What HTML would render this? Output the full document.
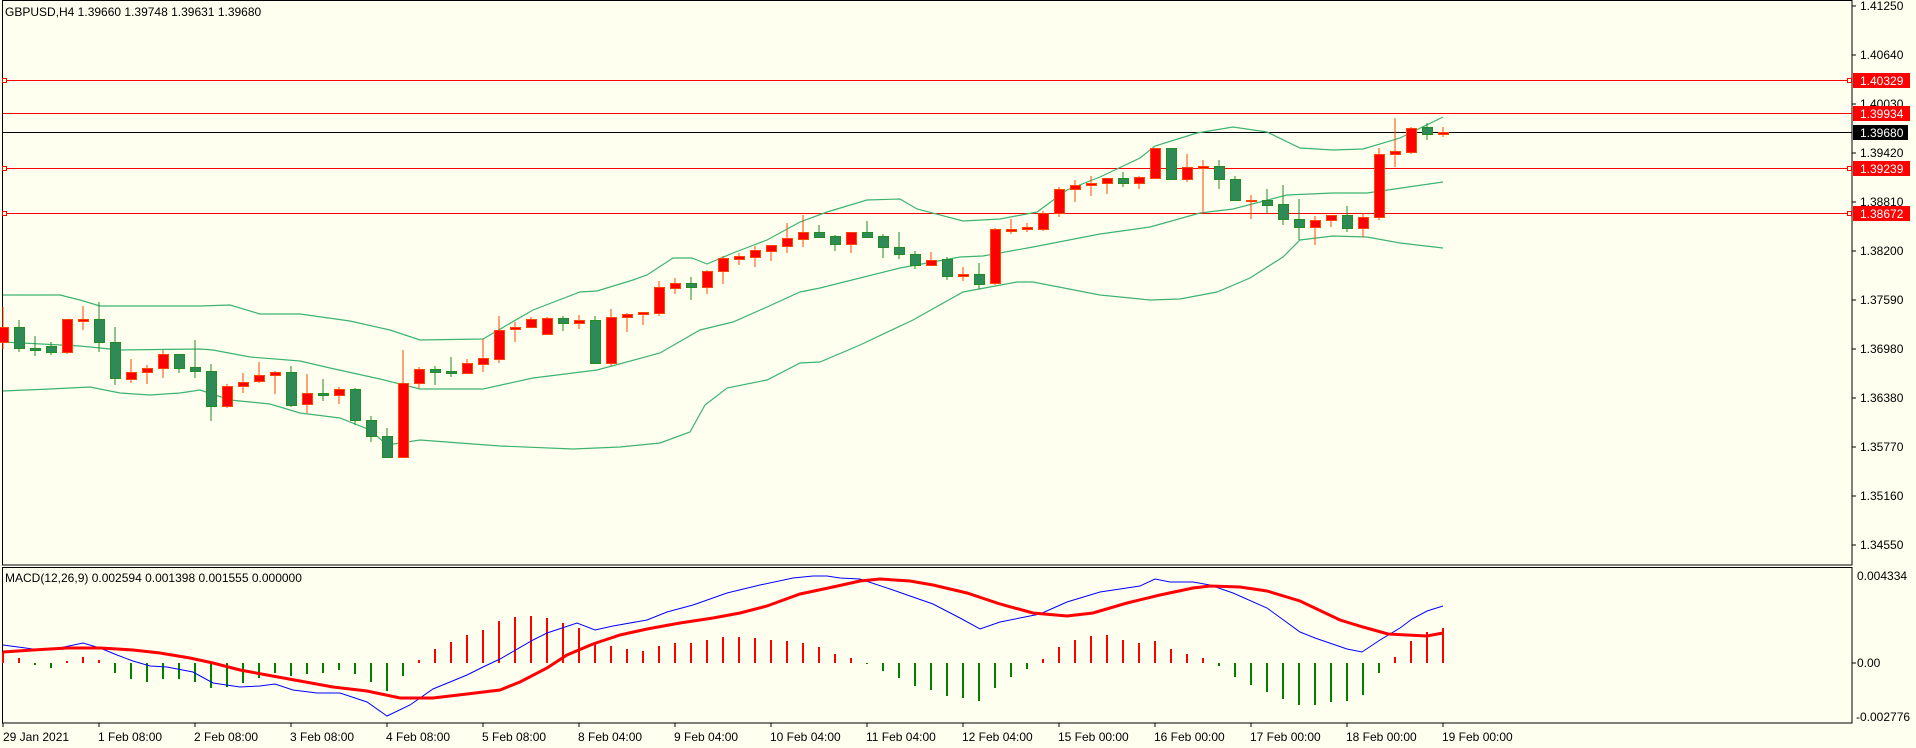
<!DOCTYPE html>
<html><head><meta charset="utf-8"><style>
html,body{margin:0;padding:0;background:#fffff0;}
svg{display:block;font-family:"Liberation Sans",Tahoma,sans-serif;font-size:12px;}
</style></head><body>
<svg width="1916" height="748" viewBox="0 0 1916 748" xmlns="http://www.w3.org/2000/svg">
<rect width="1916" height="748" fill="#fffff0"/>
<!-- panel borders -->
<rect x="2.5" y="0.5" width="1849.5" height="564.5" fill="none" stroke="#000" stroke-width="1"/>
<rect x="2.5" y="567.5" width="1849.5" height="155.5" fill="none" stroke="#000" stroke-width="1"/>
<g fill="#000">
<text x="5" y="16">GBPUSD,H4  1.39660 1.39748 1.39631 1.39680</text>
<text x="5" y="582">MACD(12,26,9) 0.002594 0.001398 0.001555 0.000000</text>
</g>
<!-- right price axis -->
<g stroke="#000" stroke-width="1">
<line x1="1852" y1="6" x2="1856" y2="6"/><line x1="1852" y1="55" x2="1856" y2="55"/><line x1="1852" y1="104" x2="1856" y2="104"/><line x1="1852" y1="153" x2="1856" y2="153"/><line x1="1852" y1="202" x2="1856" y2="202"/><line x1="1852" y1="251" x2="1856" y2="251"/><line x1="1852" y1="300" x2="1856" y2="300"/><line x1="1852" y1="349" x2="1856" y2="349"/><line x1="1852" y1="398" x2="1856" y2="398"/><line x1="1852" y1="447" x2="1856" y2="447"/><line x1="1852" y1="496" x2="1856" y2="496"/><line x1="1852" y1="545" x2="1856" y2="545"/>
<line x1="1852" y1="663" x2="1856" y2="663"/>
</g>
<g fill="#000">
<text x="1860" y="10">1.41250</text><text x="1860" y="59">1.40640</text><text x="1860" y="108">1.40030</text><text x="1860" y="157">1.39420</text><text x="1860" y="206">1.38810</text><text x="1860" y="255">1.38200</text><text x="1860" y="304">1.37590</text><text x="1860" y="353">1.36980</text><text x="1860" y="402">1.36380</text><text x="1860" y="451">1.35770</text><text x="1860" y="500">1.35160</text><text x="1860" y="549">1.34550</text>
<text x="1857" y="580">0.004334</text><text x="1857" y="667">0.00</text><text x="1856" y="721">-0.002776</text>
</g>
<!-- x axis -->
<g stroke="#000"><line x1="3" y1="723" x2="3" y2="727"/><line x1="99" y1="723" x2="99" y2="727"/><line x1="195" y1="723" x2="195" y2="727"/><line x1="291" y1="723" x2="291" y2="727"/><line x1="387" y1="723" x2="387" y2="727"/><line x1="483" y1="723" x2="483" y2="727"/><line x1="579" y1="723" x2="579" y2="727"/><line x1="675" y1="723" x2="675" y2="727"/><line x1="771" y1="723" x2="771" y2="727"/><line x1="867" y1="723" x2="867" y2="727"/><line x1="963" y1="723" x2="963" y2="727"/><line x1="1059" y1="723" x2="1059" y2="727"/><line x1="1155" y1="723" x2="1155" y2="727"/><line x1="1251" y1="723" x2="1251" y2="727"/><line x1="1347" y1="723" x2="1347" y2="727"/><line x1="1443" y1="723" x2="1443" y2="727"/></g>
<g fill="#000">
<text x="3" y="741">29 Jan 2021</text><text x="98" y="741">1 Feb 08:00</text><text x="194" y="741">2 Feb 08:00</text><text x="290" y="741">3 Feb 08:00</text><text x="386" y="741">4 Feb 08:00</text><text x="482" y="741">5 Feb 08:00</text><text x="578" y="741">8 Feb 04:00</text><text x="674" y="741">9 Feb 04:00</text><text x="770" y="741">10 Feb 04:00</text><text x="866" y="741">11 Feb 04:00</text><text x="962" y="741">12 Feb 04:00</text><text x="1058" y="741">15 Feb 00:00</text><text x="1154" y="741">16 Feb 00:00</text><text x="1250" y="741">17 Feb 00:00</text><text x="1346" y="741">18 Feb 00:00</text><text x="1442" y="741">19 Feb 00:00</text>
</g>
<!-- horizontal levels -->
<g stroke="#ff0000" stroke-width="1">
<line x1="3" y1="80.5" x2="1852" y2="80.5"/><line x1="3" y1="113.5" x2="1852" y2="113.5"/><line x1="3" y1="168.5" x2="1852" y2="168.5"/><line x1="3" y1="213.5" x2="1852" y2="213.5"/>
</g>
<line x1="3" y1="132.5" x2="1852" y2="132.5" stroke="#000" stroke-width="1"/>
<g fill="#fffff0" stroke="#ff0000" stroke-width="1">
<rect x="1847.5" y="78.5" width="4" height="4"/><rect x="1847.5" y="166.5" width="4" height="4"/><rect x="1847.5" y="211.5" width="4" height="4"/>
<rect x="2.5" y="78.5" width="4" height="4"/><rect x="2.5" y="166.5" width="4" height="4"/><rect x="2.5" y="211.5" width="4" height="4"/>
</g>
<g fill="#ff0000"><rect x="1853" y="73" width="57" height="15"/><rect x="1853" y="106" width="57" height="15"/><rect x="1853" y="161" width="57" height="15"/><rect x="1853" y="206" width="57" height="15"/></g>
<rect x="1853" y="125" width="55" height="15" fill="#000"/>
<g fill="#fff"><text x="1860" y="85">1.40329</text><text x="1860" y="118">1.39934</text><text x="1860" y="137">1.39680</text><text x="1860" y="173">1.39239</text><text x="1860" y="218">1.38672</text></g>
<!-- Bollinger -->
<g fill="none" stroke="#3cb371" stroke-width="1.2">
<polyline points="3,295 60,295 80,300 100,306 200,306 230,305 260,314 300,314 350,321 390,330 420,340 483,339 533,310 580,292 597,291 633,280 647,275 673,258 692,258 707,264 733,253 767,240 800,222 827,212 867,200 900,199 917,209 963,221 1000,219 1037,212 1067,190 1100,177 1140,158 1155,146 1197,133 1233,127 1267,132 1300,148 1333,150 1363,149 1400,138 1443,117"/>
<polyline points="3,342 80,346 120,350 200,349 213,350 250,357 300,361 330,368 380,379 420,389 483,389 533,378 597,370 660,353 700,330 733,322 767,307 800,292 820,288 900,268 960,257 983,256 1033,247 1100,234 1150,227 1200,213 1233,209 1287,195 1333,193 1367,193 1443,182"/>
<polyline points="3,391 50,389 90,387 120,393 150,395 180,393 200,390 230,400 270,404 300,413 340,418 370,430 387,445 420,440 460,443 500,446 573,449 620,447 660,443 690,432 705,405 727,388 767,380 800,363 820,362 860,345 913,320 963,292 1017,282 1033,282 1100,295 1150,300 1180,299 1217,292 1250,278 1283,257 1300,240 1333,236 1367,237 1400,243 1443,248"/>
</g>
<!-- candles -->
<g id="c"></g>
<g stroke-width="1">
<line x1="3" y1="307" x2="3" y2="349" stroke="#ff4500"/><rect x="-1.5" y="327.5" width="10" height="15" fill="#f00" stroke="#ff4500"/>
<line x1="19" y1="320" x2="19" y2="352" stroke="#228b22"/><rect x="14.5" y="327.5" width="10" height="21" fill="#2e8b57" stroke="#228b22"/>
<line x1="35" y1="336" x2="35" y2="356" stroke="#228b22"/><rect x="30.5" y="348.5" width="10" height="2" fill="#2e8b57" stroke="#228b22"/>
<line x1="51" y1="342" x2="51" y2="355" stroke="#228b22"/><rect x="46.5" y="346.5" width="10" height="6" fill="#2e8b57" stroke="#228b22"/>
<line x1="67" y1="319" x2="67" y2="354" stroke="#ff4500"/><rect x="62.5" y="319.5" width="10" height="33" fill="#f00" stroke="#ff4500"/>
<line x1="83" y1="306" x2="83" y2="330" stroke="#ff4500"/><rect x="78.5" y="319.5" width="10" height="2" fill="#f00" stroke="#ff4500"/>
<line x1="99" y1="302" x2="99" y2="352" stroke="#228b22"/><rect x="94.5" y="319.5" width="10" height="23" fill="#2e8b57" stroke="#228b22"/>
<line x1="115" y1="327" x2="115" y2="385" stroke="#228b22"/><rect x="110.5" y="342.5" width="10" height="36" fill="#2e8b57" stroke="#228b22"/>
<line x1="131" y1="359" x2="131" y2="383" stroke="#ff4500"/><rect x="126.5" y="372.5" width="10" height="7" fill="#f00" stroke="#ff4500"/>
<line x1="147" y1="365" x2="147" y2="384" stroke="#ff4500"/><rect x="142.5" y="368.5" width="10" height="4" fill="#f00" stroke="#ff4500"/>
<line x1="163" y1="350" x2="163" y2="378" stroke="#ff4500"/><rect x="158.5" y="354.5" width="10" height="14" fill="#f00" stroke="#ff4500"/>
<line x1="179" y1="354" x2="179" y2="373" stroke="#228b22"/><rect x="174.5" y="354.5" width="10" height="14" fill="#2e8b57" stroke="#228b22"/>
<line x1="195" y1="340" x2="195" y2="378" stroke="#228b22"/><rect x="190.5" y="367.5" width="10" height="4" fill="#2e8b57" stroke="#228b22"/>
<line x1="211" y1="364" x2="211" y2="421" stroke="#228b22"/><rect x="206.5" y="371.5" width="10" height="35" fill="#2e8b57" stroke="#228b22"/>
<line x1="227" y1="384" x2="227" y2="408" stroke="#ff4500"/><rect x="222.5" y="386.5" width="10" height="20" fill="#f00" stroke="#ff4500"/>
<line x1="243" y1="373" x2="243" y2="393" stroke="#ff4500"/><rect x="238.5" y="382.5" width="10" height="4" fill="#f00" stroke="#ff4500"/>
<line x1="259" y1="362" x2="259" y2="383" stroke="#ff4500"/><rect x="254.5" y="375.5" width="10" height="6" fill="#f00" stroke="#ff4500"/>
<line x1="275" y1="371" x2="275" y2="394" stroke="#ff4500"/><rect x="270.5" y="372.5" width="10" height="3" fill="#f00" stroke="#ff4500"/>
<line x1="291" y1="366" x2="291" y2="407" stroke="#228b22"/><rect x="286.5" y="372.5" width="10" height="33" fill="#2e8b57" stroke="#228b22"/>
<line x1="307" y1="374" x2="307" y2="413" stroke="#ff4500"/><rect x="302.5" y="393.5" width="10" height="11" fill="#f00" stroke="#ff4500"/>
<line x1="323" y1="379" x2="323" y2="401" stroke="#228b22"/><rect x="318.5" y="393.5" width="10" height="2" fill="#2e8b57" stroke="#228b22"/>
<line x1="339" y1="387" x2="339" y2="404" stroke="#ff4500"/><rect x="334.5" y="389.5" width="10" height="6" fill="#f00" stroke="#ff4500"/>
<line x1="355" y1="388" x2="355" y2="425" stroke="#228b22"/><rect x="350.5" y="389.5" width="10" height="31" fill="#2e8b57" stroke="#228b22"/>
<line x1="371" y1="416" x2="371" y2="442" stroke="#228b22"/><rect x="366.5" y="420.5" width="10" height="16" fill="#2e8b57" stroke="#228b22"/>
<line x1="387" y1="428" x2="387" y2="457" stroke="#228b22"/><rect x="382.5" y="436.5" width="10" height="21" fill="#2e8b57" stroke="#228b22"/>
<line x1="403" y1="350" x2="403" y2="457" stroke="#ff4500"/><rect x="398.5" y="383.5" width="10" height="74" fill="#f00" stroke="#ff4500"/>
<line x1="419" y1="367" x2="419" y2="388" stroke="#ff4500"/><rect x="414.5" y="369.5" width="10" height="14" fill="#f00" stroke="#ff4500"/>
<line x1="435" y1="366" x2="435" y2="385" stroke="#228b22"/><rect x="430.5" y="369.5" width="10" height="3" fill="#2e8b57" stroke="#228b22"/>
<line x1="451" y1="357" x2="451" y2="377" stroke="#228b22"/><rect x="446.5" y="371.5" width="10" height="2" fill="#2e8b57" stroke="#228b22"/>
<line x1="467" y1="359" x2="467" y2="373" stroke="#ff4500"/><rect x="462.5" y="363.5" width="10" height="10" fill="#f00" stroke="#ff4500"/>
<line x1="483" y1="339" x2="483" y2="372" stroke="#ff4500"/><rect x="478.5" y="358.5" width="10" height="6" fill="#f00" stroke="#ff4500"/>
<line x1="499" y1="316" x2="499" y2="363" stroke="#ff4500"/><rect x="494.5" y="330.5" width="10" height="29" fill="#f00" stroke="#ff4500"/>
<line x1="515" y1="322" x2="515" y2="342" stroke="#ff4500"/><rect x="510.5" y="327.5" width="10" height="2" fill="#f00" stroke="#ff4500"/>
<line x1="531" y1="317" x2="531" y2="327" stroke="#ff4500"/><rect x="526.5" y="319.5" width="10" height="8" fill="#f00" stroke="#ff4500"/>
<line x1="547" y1="317" x2="547" y2="335" stroke="#ff4500"/><rect x="542.5" y="318.5" width="10" height="16" fill="#f00" stroke="#ff4500"/>
<line x1="563" y1="316" x2="563" y2="331" stroke="#228b22"/><rect x="558.5" y="318.5" width="10" height="5" fill="#2e8b57" stroke="#228b22"/>
<line x1="579" y1="315" x2="579" y2="329" stroke="#ff4500"/><rect x="574.5" y="320.5" width="10" height="3" fill="#f00" stroke="#ff4500"/>
<line x1="595" y1="316" x2="595" y2="364" stroke="#228b22"/><rect x="590.5" y="320.5" width="10" height="43" fill="#2e8b57" stroke="#228b22"/>
<line x1="611" y1="309" x2="611" y2="366" stroke="#ff4500"/><rect x="606.5" y="317.5" width="10" height="46" fill="#f00" stroke="#ff4500"/>
<line x1="627" y1="313" x2="627" y2="332" stroke="#ff4500"/><rect x="622.5" y="314.5" width="10" height="3" fill="#f00" stroke="#ff4500"/>
<line x1="643" y1="312" x2="643" y2="325" stroke="#ff4500"/><rect x="638.5" y="312.5" width="10" height="2" fill="#f00" stroke="#ff4500"/>
<line x1="659" y1="281" x2="659" y2="316" stroke="#ff4500"/><rect x="654.5" y="287.5" width="10" height="26" fill="#f00" stroke="#ff4500"/>
<line x1="675" y1="278" x2="675" y2="294" stroke="#ff4500"/><rect x="670.5" y="283.5" width="10" height="5" fill="#f00" stroke="#ff4500"/>
<line x1="691" y1="277" x2="691" y2="300" stroke="#228b22"/><rect x="686.5" y="283.5" width="10" height="4" fill="#2e8b57" stroke="#228b22"/>
<line x1="707" y1="270" x2="707" y2="294" stroke="#ff4500"/><rect x="702.5" y="271.5" width="10" height="16" fill="#f00" stroke="#ff4500"/>
<line x1="723" y1="256" x2="723" y2="284" stroke="#ff4500"/><rect x="718.5" y="258.5" width="10" height="13" fill="#f00" stroke="#ff4500"/>
<line x1="739" y1="253" x2="739" y2="265" stroke="#ff4500"/><rect x="734.5" y="256.5" width="10" height="3" fill="#f00" stroke="#ff4500"/>
<line x1="755" y1="246" x2="755" y2="267" stroke="#ff4500"/><rect x="750.5" y="250.5" width="10" height="7" fill="#f00" stroke="#ff4500"/>
<line x1="771" y1="245" x2="771" y2="261" stroke="#ff4500"/><rect x="766.5" y="245.5" width="10" height="6" fill="#f00" stroke="#ff4500"/>
<line x1="787" y1="223" x2="787" y2="253" stroke="#ff4500"/><rect x="782.5" y="238.5" width="10" height="8" fill="#f00" stroke="#ff4500"/>
<line x1="803" y1="215" x2="803" y2="247" stroke="#ff4500"/><rect x="798.5" y="232.5" width="10" height="7" fill="#f00" stroke="#ff4500"/>
<line x1="819" y1="225" x2="819" y2="238" stroke="#228b22"/><rect x="814.5" y="232.5" width="10" height="5" fill="#2e8b57" stroke="#228b22"/>
<line x1="835" y1="235" x2="835" y2="251" stroke="#228b22"/><rect x="830.5" y="236.5" width="10" height="8" fill="#2e8b57" stroke="#228b22"/>
<line x1="851" y1="232" x2="851" y2="253" stroke="#ff4500"/><rect x="846.5" y="232.5" width="10" height="12" fill="#f00" stroke="#ff4500"/>
<line x1="867" y1="221" x2="867" y2="238" stroke="#228b22"/><rect x="862.5" y="232.5" width="10" height="5" fill="#2e8b57" stroke="#228b22"/>
<line x1="883" y1="234" x2="883" y2="258" stroke="#228b22"/><rect x="878.5" y="236.5" width="10" height="11" fill="#2e8b57" stroke="#228b22"/>
<line x1="899" y1="232" x2="899" y2="259" stroke="#228b22"/><rect x="894.5" y="247.5" width="10" height="7" fill="#2e8b57" stroke="#228b22"/>
<line x1="915" y1="251" x2="915" y2="269" stroke="#228b22"/><rect x="910.5" y="254.5" width="10" height="11" fill="#2e8b57" stroke="#228b22"/>
<line x1="931" y1="252" x2="931" y2="266" stroke="#ff4500"/><rect x="926.5" y="260.5" width="10" height="5" fill="#f00" stroke="#ff4500"/>
<line x1="947" y1="257" x2="947" y2="280" stroke="#228b22"/><rect x="942.5" y="259.5" width="10" height="17" fill="#2e8b57" stroke="#228b22"/>
<line x1="963" y1="267" x2="963" y2="281" stroke="#ff4500"/><rect x="958.5" y="274.5" width="10" height="2" fill="#f00" stroke="#ff4500"/>
<line x1="979" y1="263" x2="979" y2="289" stroke="#228b22"/><rect x="974.5" y="274.5" width="10" height="10" fill="#2e8b57" stroke="#228b22"/>
<line x1="995" y1="228" x2="995" y2="285" stroke="#ff4500"/><rect x="990.5" y="229.5" width="10" height="54" fill="#f00" stroke="#ff4500"/>
<line x1="1011" y1="219" x2="1011" y2="234" stroke="#ff4500"/><rect x="1006.5" y="229.5" width="10" height="2" fill="#f00" stroke="#ff4500"/>
<line x1="1027" y1="223" x2="1027" y2="232" stroke="#ff4500"/><rect x="1022.5" y="227.5" width="10" height="2" fill="#f00" stroke="#ff4500"/>
<line x1="1043" y1="211" x2="1043" y2="231" stroke="#ff4500"/><rect x="1038.5" y="213.5" width="10" height="16" fill="#f00" stroke="#ff4500"/>
<line x1="1059" y1="187" x2="1059" y2="217" stroke="#ff4500"/><rect x="1054.5" y="189.5" width="10" height="24" fill="#f00" stroke="#ff4500"/>
<line x1="1075" y1="180" x2="1075" y2="202" stroke="#ff4500"/><rect x="1070.5" y="185.5" width="10" height="4" fill="#f00" stroke="#ff4500"/>
<line x1="1091" y1="176" x2="1091" y2="196" stroke="#ff4500"/><rect x="1086.5" y="183.5" width="10" height="2" fill="#f00" stroke="#ff4500"/>
<line x1="1107" y1="178" x2="1107" y2="194" stroke="#ff4500"/><rect x="1102.5" y="178.5" width="10" height="5" fill="#f00" stroke="#ff4500"/>
<line x1="1123" y1="172" x2="1123" y2="187" stroke="#228b22"/><rect x="1118.5" y="178.5" width="10" height="5" fill="#2e8b57" stroke="#228b22"/>
<line x1="1139" y1="176" x2="1139" y2="189" stroke="#ff4500"/><rect x="1134.5" y="177.5" width="10" height="6" fill="#f00" stroke="#ff4500"/>
<line x1="1155" y1="148" x2="1155" y2="179" stroke="#ff4500"/><rect x="1150.5" y="148.5" width="10" height="30" fill="#f00" stroke="#ff4500"/>
<line x1="1171" y1="148" x2="1171" y2="179" stroke="#228b22"/><rect x="1166.5" y="148.5" width="10" height="31" fill="#2e8b57" stroke="#228b22"/>
<line x1="1187" y1="154" x2="1187" y2="182" stroke="#ff4500"/><rect x="1182.5" y="167.5" width="10" height="12" fill="#f00" stroke="#ff4500"/>
<line x1="1203" y1="160" x2="1203" y2="213" stroke="#ff4500"/><rect x="1198.5" y="166.5" width="10" height="2" fill="#f00" stroke="#ff4500"/>
<line x1="1219" y1="160" x2="1219" y2="189" stroke="#228b22"/><rect x="1214.5" y="166.5" width="10" height="13" fill="#2e8b57" stroke="#228b22"/>
<line x1="1235" y1="176" x2="1235" y2="200" stroke="#228b22"/><rect x="1230.5" y="179.5" width="10" height="21" fill="#2e8b57" stroke="#228b22"/>
<line x1="1251" y1="195" x2="1251" y2="219" stroke="#ff4500"/><rect x="1246.5" y="200.5" width="10" height="1" fill="#f00" stroke="#ff4500"/>
<line x1="1267" y1="189" x2="1267" y2="213" stroke="#228b22"/><rect x="1262.5" y="200.5" width="10" height="5" fill="#2e8b57" stroke="#228b22"/>
<line x1="1283" y1="185" x2="1283" y2="225" stroke="#228b22"/><rect x="1278.5" y="204.5" width="10" height="15" fill="#2e8b57" stroke="#228b22"/>
<line x1="1299" y1="199" x2="1299" y2="240" stroke="#228b22"/><rect x="1294.5" y="219.5" width="10" height="8" fill="#2e8b57" stroke="#228b22"/>
<line x1="1315" y1="216" x2="1315" y2="245" stroke="#ff4500"/><rect x="1310.5" y="220.5" width="10" height="7" fill="#f00" stroke="#ff4500"/>
<line x1="1331" y1="215" x2="1331" y2="227" stroke="#ff4500"/><rect x="1326.5" y="215.5" width="10" height="5" fill="#f00" stroke="#ff4500"/>
<line x1="1347" y1="206" x2="1347" y2="232" stroke="#228b22"/><rect x="1342.5" y="215.5" width="10" height="13" fill="#2e8b57" stroke="#228b22"/>
<line x1="1363" y1="213" x2="1363" y2="237" stroke="#ff4500"/><rect x="1358.5" y="217.5" width="10" height="11" fill="#f00" stroke="#ff4500"/>
<line x1="1379" y1="148" x2="1379" y2="220" stroke="#ff4500"/><rect x="1374.5" y="154.5" width="10" height="63" fill="#f00" stroke="#ff4500"/>
<line x1="1395" y1="118" x2="1395" y2="167" stroke="#ff4500"/><rect x="1390.5" y="151.5" width="10" height="3" fill="#f00" stroke="#ff4500"/>
<line x1="1411" y1="127" x2="1411" y2="154" stroke="#ff4500"/><rect x="1406.5" y="128.5" width="10" height="24" fill="#f00" stroke="#ff4500"/>
<line x1="1427" y1="123" x2="1427" y2="140" stroke="#228b22"/><rect x="1422.5" y="127.5" width="10" height="7" fill="#2e8b57" stroke="#228b22"/>
<line x1="1443" y1="127" x2="1443" y2="137" stroke="#ff4500"/><rect x="1438.5" y="132.5" width="10" height="2" fill="#f00" stroke="#ff4500"/>
</g>
<!-- MACD histogram -->
<g stroke-width="2" stroke="#ff0000">
<line x1="3" y1="663" x2="3" y2="652"/><line x1="19" y1="663" x2="19" y2="658"/><line x1="67" y1="663" x2="67" y2="661"/><line x1="83" y1="663" x2="83" y2="657"/><line x1="99" y1="663" x2="99" y2="660"/>
<line x1="419" y1="663" x2="419" y2="660"/><line x1="435" y1="663" x2="435" y2="649"/><line x1="451" y1="663" x2="451" y2="642"/><line x1="467" y1="663" x2="467" y2="635"/><line x1="483" y1="663" x2="483" y2="630"/><line x1="499" y1="663" x2="499" y2="621"/><line x1="515" y1="663" x2="515" y2="617"/><line x1="531" y1="663" x2="531" y2="616"/><line x1="547" y1="663" x2="547" y2="618"/><line x1="563" y1="663" x2="563" y2="623"/><line x1="579" y1="663" x2="579" y2="628"/><line x1="595" y1="663" x2="595" y2="644"/><line x1="611" y1="663" x2="611" y2="646"/><line x1="627" y1="663" x2="627" y2="649"/><line x1="643" y1="663" x2="643" y2="651"/><line x1="659" y1="663" x2="659" y2="646"/><line x1="675" y1="663" x2="675" y2="643"/><line x1="691" y1="663" x2="691" y2="643"/><line x1="707" y1="663" x2="707" y2="640"/><line x1="723" y1="663" x2="723" y2="637"/><line x1="739" y1="663" x2="739" y2="637"/><line x1="755" y1="663" x2="755" y2="638"/><line x1="771" y1="663" x2="771" y2="640"/><line x1="787" y1="663" x2="787" y2="641"/><line x1="803" y1="663" x2="803" y2="643"/><line x1="819" y1="663" x2="819" y2="647"/><line x1="835" y1="663" x2="835" y2="654"/><line x1="851" y1="663" x2="851" y2="658"/>
<line x1="1043" y1="663" x2="1043" y2="659"/><line x1="1059" y1="663" x2="1059" y2="647"/><line x1="1075" y1="663" x2="1075" y2="640"/><line x1="1091" y1="663" x2="1091" y2="636"/><line x1="1107" y1="663" x2="1107" y2="635"/><line x1="1123" y1="663" x2="1123" y2="640"/><line x1="1139" y1="663" x2="1139" y2="643"/><line x1="1155" y1="663" x2="1155" y2="641"/><line x1="1171" y1="663" x2="1171" y2="649"/><line x1="1187" y1="663" x2="1187" y2="654"/><line x1="1203" y1="663" x2="1203" y2="658"/>
<line x1="1395" y1="663" x2="1395" y2="657"/><line x1="1411" y1="663" x2="1411" y2="641"/><line x1="1427" y1="663" x2="1427" y2="632"/><line x1="1443" y1="663" x2="1443" y2="628"/>
</g>
<g stroke-width="2" stroke="#008000">
<line x1="35" y1="663" x2="35" y2="665"/><line x1="51" y1="663" x2="51" y2="668"/>
<line x1="115" y1="663" x2="115" y2="673"/><line x1="131" y1="663" x2="131" y2="679"/><line x1="147" y1="663" x2="147" y2="682"/><line x1="163" y1="663" x2="163" y2="679"/><line x1="179" y1="663" x2="179" y2="679"/><line x1="195" y1="663" x2="195" y2="682"/><line x1="211" y1="663" x2="211" y2="688"/><line x1="227" y1="663" x2="227" y2="687"/><line x1="243" y1="663" x2="243" y2="683"/><line x1="259" y1="663" x2="259" y2="678"/><line x1="275" y1="663" x2="275" y2="673"/><line x1="291" y1="663" x2="291" y2="676"/><line x1="307" y1="663" x2="307" y2="674"/><line x1="323" y1="663" x2="323" y2="673"/><line x1="339" y1="663" x2="339" y2="670"/><line x1="355" y1="663" x2="355" y2="674"/><line x1="371" y1="663" x2="371" y2="682"/><line x1="387" y1="663" x2="387" y2="691"/><line x1="403" y1="663" x2="403" y2="676"/>
<line x1="867" y1="663" x2="867" y2="664"/><line x1="883" y1="663" x2="883" y2="671"/><line x1="899" y1="663" x2="899" y2="678"/><line x1="915" y1="663" x2="915" y2="686"/><line x1="931" y1="663" x2="931" y2="690"/><line x1="947" y1="663" x2="947" y2="696"/><line x1="963" y1="663" x2="963" y2="698"/><line x1="979" y1="663" x2="979" y2="701"/><line x1="995" y1="663" x2="995" y2="688"/><line x1="1011" y1="663" x2="1011" y2="677"/><line x1="1027" y1="663" x2="1027" y2="669"/>
<line x1="1219" y1="663" x2="1219" y2="666"/><line x1="1235" y1="663" x2="1235" y2="677"/><line x1="1251" y1="663" x2="1251" y2="685"/><line x1="1267" y1="663" x2="1267" y2="692"/><line x1="1283" y1="663" x2="1283" y2="699"/><line x1="1299" y1="663" x2="1299" y2="705"/><line x1="1315" y1="663" x2="1315" y2="705"/><line x1="1331" y1="663" x2="1331" y2="702"/><line x1="1347" y1="663" x2="1347" y2="701"/><line x1="1363" y1="663" x2="1363" y2="695"/><line x1="1379" y1="663" x2="1379" y2="673"/>
</g>
<!-- MACD lines -->
<polyline fill="none" stroke="#0000ff" stroke-width="1" points="3,645 33,649 50,650 83,643 100,648 117,655 133,661 150,666 167,667 193,672 213,683 240,687 260,686 275,684 293,690 317,693 340,693 367,702 387,716 410,705 433,689 467,675 483,667 500,659 533,640 547,633 577,623 595,630 613,626 647,620 667,612 693,605 727,593 760,585 793,578 813,576 827,576 840,578 860,579 893,590 910,596 933,604 960,618 980,629 1000,622 1040,614 1067,602 1100,592 1140,586 1155,579 1170,582 1193,582 1210,585 1233,593 1267,608 1300,632 1315,638 1347,649 1362,652 1380,640 1400,628 1412,619 1427,611 1443,606"/>
<polyline fill="none" stroke="#ff0000" stroke-width="3" points="3,652 33,650 67,648 100,648 117,649 133,650 160,653 190,658 213,663 240,670 267,675 300,681 333,687 367,691 400,698 433,698 467,694 500,690 520,682 547,668 567,655 593,644 620,635 647,629 680,623 713,618 740,613 767,606 800,594 833,587 860,581 880,579 910,581 933,585 967,593 1000,604 1033,613 1067,616 1093,613 1127,603 1160,595 1193,588 1210,586 1240,587 1267,591 1300,601 1340,620 1363,627 1388,634 1427,636 1443,633"/>
</svg>
</body></html>
